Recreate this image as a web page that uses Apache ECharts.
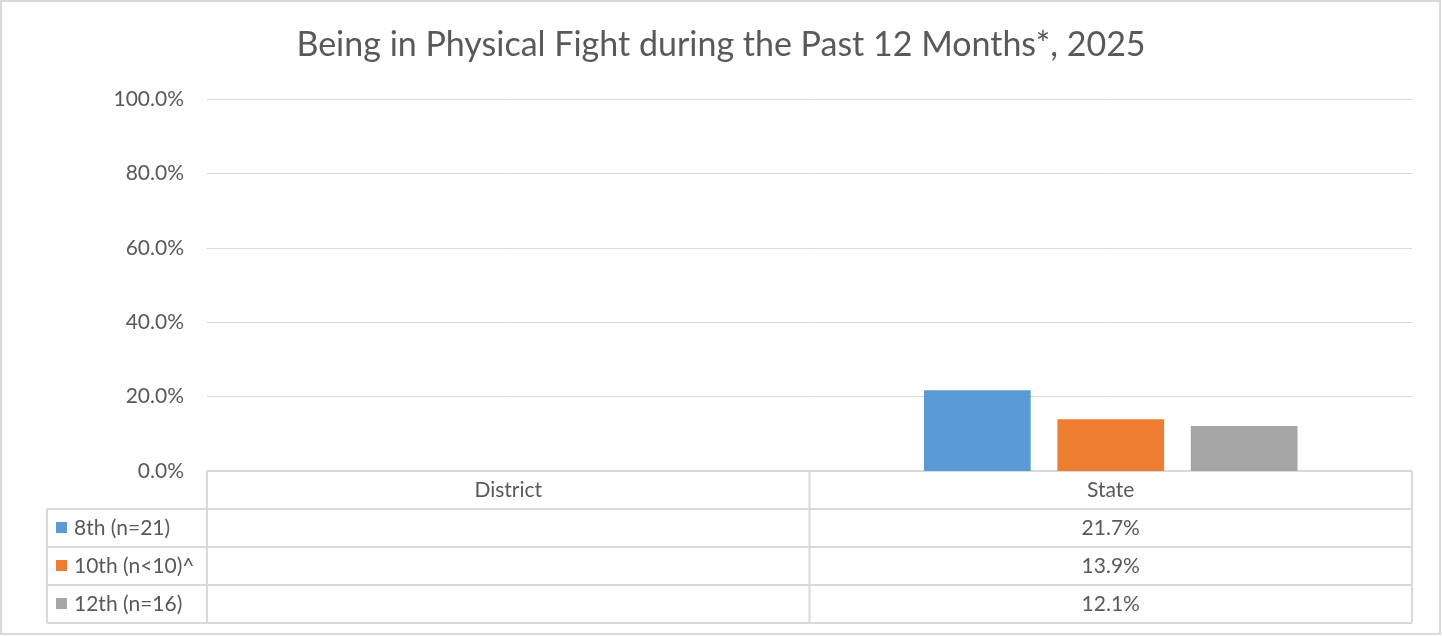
<!DOCTYPE html>
<html>
<head>
<meta charset="utf-8">
<script src="https://cdn.jsdelivr.net/npm/echarts@6/dist/echarts.min.js"></script>
<style>
	html, body { margin: 0; padding: 0; background: #fff; }
	#chart { width: 1442px; height: 636px; }
</style>
</head>
<body>
<div id="chart"></div>
<script>
// data
let categories = ['District', 'State'];
let seriesNames = ['8th (n=21)', '10th (n<10)^', '12th (n=16)'];
let seriesColors = ['#5B9BD5', '#ED7D31', '#A5A5A5'];
let grade8 = [null, 21.7];
let grade10 = [null, 13.9];
let grade12 = [null, 12.1];
let yTicks = [0, 20, 40, 60, 80, 100];

let seriesData = [grade8, grade10, grade12];
let fontFamily = 'Lato, "Open Sans", sans-serif';
let textColor = '#595959';
let lineColor = '#d9d9d9';
let fontSize = 21;

let chart = echarts.init(document.getElementById('chart'));

let option = {
	animation: false,
	backgroundColor: '#fff',
	title: {
		text: 'Being in Physical Fight during the Past 12 Months*, 2025',
		left: 'center',
		top: 23,
		textStyle: {
			color: textColor,
			fontFamily: fontFamily,
			fontSize: 34,
			fontWeight: 'normal'
		}
	},
	grid: {
		left: 207,
		right: 30,
		top: 99,
		bottom: 165
	},
	xAxis: {
		type: 'category',
		data: categories,
		axisLine: { show: true, lineStyle: { color: lineColor } },
		axisTick: { show: false },
		axisLabel: {
			margin: 9,
			color: textColor,
			fontFamily: fontFamily,
			fontSize: fontSize
		}
	},
	yAxis: {
		type: 'value',
		min: yTicks[0],
		max: yTicks[yTicks.length - 1],
		interval: 20,
		axisLine: { show: false },
		axisTick: { show: false },
		splitLine: { lineStyle: { color: lineColor, width: 1 } },
		axisLabel: {
			margin: 23,
			color: textColor,
			fontFamily: fontFamily,
			fontSize: fontSize,
			formatter: function (v) { return v.toFixed(1) + '%'; }
		}
	},
	series: seriesNames.map(function (name, i) {
		return {
			name: name,
			type: 'bar',
			data: seriesData[i],
			barGap: '25%',
			barCategoryGap: '38%',
			itemStyle: { color: seriesColors[i] }
		};
	})
};
chart.setOption(option);

// data table under the plot
function buildTable() {
	let rect = chart.getModel().getComponent('grid').coordinateSystem.getRect();
	let left = rect.x, right = rect.x + rect.width, top = rect.y + rect.height;
	let rowH = 38;
	let headerH = 38;
	let keyLeft = 47;
	let els = [];
	let line = function (x1, y1, x2, y2) {
		els.push({
			type: 'line',
			shape: { x1: x1, y1: y1, x2: x2, y2: y2 },
			style: { stroke: lineColor, lineWidth: 2 },
			silent: true
		});
	};
	let bottom = top + headerH + rowH * seriesNames.length;
	// outer chart border
	els.push({
		type: 'rect',
		shape: { x: 1, y: 1, width: 1439, height: 633 },
		style: { fill: null, stroke: lineColor, lineWidth: 2 },
		silent: true,
		z: -1
	});
	// vertical lines
	line(left, top, left, bottom);
	line(right, top, right, bottom);
	line(keyLeft, top + headerH, keyLeft, bottom);
	let colEdges = [];
	for (let c = 1; c < categories.length; c++) {
		let a = chart.convertToPixel({ xAxisIndex: 0 }, categories[c - 1]);
		let b = chart.convertToPixel({ xAxisIndex: 0 }, categories[c]);
		colEdges.push((a + b) / 2);
	}
	colEdges.forEach(function (x) { line(x, top, x, bottom); });
	// horizontal lines
	line(left, top, right, top);
	for (let r = 0; r <= seriesNames.length; r++) {
		let y = top + headerH + rowH * r;
		line(keyLeft, y, right, y);
	}
	// rows
	seriesNames.forEach(function (name, i) {
		let cy = top + headerH + rowH * i + rowH / 2;
		els.push({
			type: 'rect',
			shape: { x: 56, y: cy - 6, width: 11, height: 11 },
			style: { fill: seriesColors[i] },
			silent: true
		});
		els.push({
			type: 'text',
			x: 74, y: cy,
			style: {
				text: name, fill: textColor, font: fontSize + 'px ' + fontFamily,
				textVerticalAlign: 'middle', textAlign: 'left'
			},
			silent: true
		});
		categories.forEach(function (cat, j) {
			let v = seriesData[i][j];
			if (v == null) return;
			els.push({
				type: 'text',
				x: chart.convertToPixel({ xAxisIndex: 0 }, cat), y: cy,
				style: {
					text: v.toFixed(1) + '%', fill: textColor, font: fontSize + 'px ' + fontFamily,
					textVerticalAlign: 'middle', textAlign: 'center'
				},
				silent: true
			});
		});
	});
	chart.setOption({ graphic: { elements: els } });
}
buildTable();
window.onresize = chart.resize;
</script>
</body>
</html>
